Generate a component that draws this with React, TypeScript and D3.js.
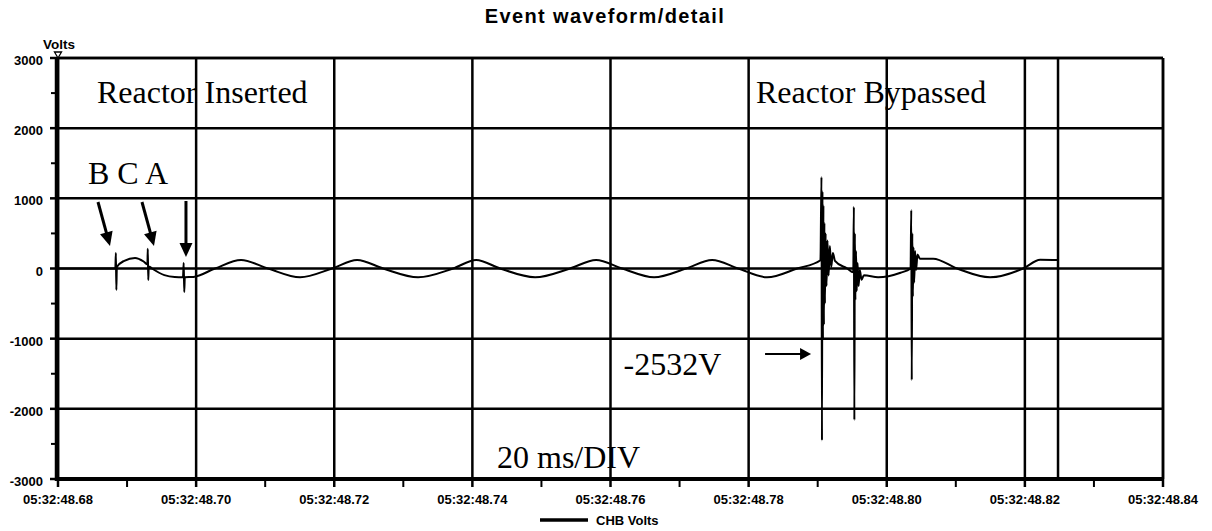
import React from "react";
import * as d3 from "d3";

// ---- data (time in ms after 05:32:48.680, values in volts) ----
const xTickMs = [0, 20, 40, 60, 80, 100, 120, 140, 160];
const xTickLabels = [
  "05:32:48.68", "05:32:48.70", "05:32:48.72", "05:32:48.74", "05:32:48.76",
  "05:32:48.78", "05:32:48.80", "05:32:48.82", "05:32:48.84",
];
const xMinorMs = [10, 30, 50, 70, 90, 110, 130, 150];
const yTicks = [-3000, -2000, -1000, 0, 1000, 2000, 3000];
const yMinor = [-2500, -1500, -500, 500, 1500, 2500];
const cursorMs = [144.8];
const seriesName = "CHB Volts";
const title = "Event waveform/detail";
const yUnit = "Volts";

const waveform: [number, number][] = [
  [0, 0], [8.3, 0],
  [8.38, 220], [8.45, -306], [8.52, 20],
  [9.6, 110], [11.15, 150], [12.4, 100], [12.95, 60],
  [13.0, 280], [13.07, -165], [13.14, 30],
  [13.61, 0], [15.4, -95], [16.9, -122], [18.1, -125],
  [18.2, 80], [18.28, -335], [18.36, -125],
  [19.6, -120], [22.74, 0], [26.5, 122], [30.41, 0], [35.05, -125],
  [39.68, 0], [43.3, 122], [47.07, 0], [52.14, -125], [57.2, 0],
  [60.54, 122], [64.01, 0], [69.08, -125], [74.15, 0], [77.91, 122],
  [81.68, 0], [86.31, -125], [90.95, 0], [94.71, 122], [98.48, 0],
  [102.68, -125], [107.02, 0], [110.4, 118],
  [110.55, 1304], [110.62, -2450], [110.69, 1100], [110.76, -1000], [110.83, 900],
  [110.9, -800], [110.97, 650], [111.05, -500], [111.15, 500], [111.28, -250],
  [111.42, 400], [111.58, -100], [111.76, 320], [111.95, 20], [112.2, 220], [112.5, 110],
  [114.27, 0],
  [115.15, -55], [115.24, 880], [115.31, -2159], [115.38, 500], [115.46, -450],
  [115.55, 250], [115.65, -320], [115.78, 80], [115.92, -250], [116.1, -20],
  [116.35, -160], [116.7, -95],
  [118.75, -125], [122.0, -60], [123.45, 0],
  [123.55, 833], [123.62, -1590], [123.7, 500], [123.78, -400], [123.87, 300],
  [123.97, -200], [124.1, 250], [124.25, -20], [124.45, 200], [124.8, 140],
  [126.72, 140], [130.2, 0], [134.97, -125], [139.75, 0], [142.22, 125], [144.9, 120],
];

const annotations = [
  { text: "Reactor Inserted", ms: 5.65, v: 2358 },
  { text: "Reactor Bypassed", ms: 101.07, v: 2358 },
  { text: "B C A", ms: 4.34, v: 1204 },
  { text: "-2532V", ms: 81.9, v: -1518 },
  { text: "20 ms/DIV", ms: 63.57, v: -2843 },
];

const arrows = [
  { ms0: 5.79, v0: 948, ms1: 7.53, v1: 321, w: 3 },
  { ms0: 12.16, v0: 948, ms1: 13.9, v1: 321, w: 3 },
  { ms0: 18.53, v0: 962, ms1: 18.53, v1: 164, w: 3 },
  { ms0: 102.38, v0: -1218, ms1: 109.04, v1: -1218, w: 2 },
];

const sans = "'Liberation Sans', Arial, Helvetica, sans-serif";
const serif = "'Liberation Serif', 'Times New Roman', serif";

export default function App() {
  const W = 1212;
  const H = 531;
  const x = d3.scaleLinear().domain([0, 160]).range([58, 1163]);
  const y = d3.scaleLinear().domain([-3000, 3000]).range([479, 58]);
  const line = d3
    .line<[number, number]>()
    .x((d) => x(d[0]))
    .y((d) => y(d[1]))
    .curve(d3.curveMonotoneX);

  const [x0, x1] = x.range();
  const [yb, yt] = y.range();

  const arrowEls = arrows.map((a, i) => {
    const px0 = x(a.ms0), py0 = y(a.v0), px1 = x(a.ms1), py1 = y(a.v1);
    const dx = px1 - px0, dy = py1 - py0;
    const len = Math.hypot(dx, dy);
    const ux = dx / len, uy = dy / len;
    const hl = a.w === 3 ? 14 : 11;
    const hw = a.w === 3 ? 6.5 : 6;
    const bx = px1 - ux * hl, by = py1 - uy * hl;
    const nx = -uy, ny = ux;
    const tri = `M${px1},${py1}L${bx + nx * hw},${by + ny * hw}L${bx - nx * hw},${by - ny * hw}Z`;
    return (
      <g key={i}>
        <line x1={px0} y1={py0} x2={bx + ux * 1} y2={by + uy * 1} stroke="#000" strokeWidth={a.w} />
        <path d={tri} fill="#000" />
      </g>
    );
  });

  return (
    <>
      <style>{"body{margin:0}"}</style>
      <svg width={W} height={H} style={{ display: "block", background: "#fff" }}>
        <text x={605} y={23} textAnchor="middle" fontFamily={sans} fontWeight="bold" fontSize={20} letterSpacing={1.4}>
          {title}
        </text>

        {/* gridlines */}
        {yTicks.map((t) => (
          <line key={"gy" + t} x1={x0} x2={x1} y1={y(t)} y2={y(t)} stroke="#000" strokeWidth={2.5} />
        ))}
        {xTickMs.map((t) => (
          <line key={"gx" + t} x1={x(t)} x2={x(t)} y1={yt} y2={yb} stroke="#000" strokeWidth={2.5} />
        ))}
        {cursorMs.map((t) => (
          <line key={"cur" + t} x1={x(t)} x2={x(t)} y1={yt} y2={yb} stroke="#000" strokeWidth={2.5} />
        ))}

        {/* waveform */}
        <path d={line(waveform) || ""} fill="none" stroke="#000" strokeWidth={2} strokeLinejoin="round" />

        {/* frame */}
        <line x1={x1} x2={x1} y1={yt} y2={yb} stroke="#000" strokeWidth={2.5} />
        <line x1={x0} x2={x1} y1={yt} y2={yt} stroke="#000" strokeWidth={2.5} />
        <line x1={x0 - 1} x2={x0 - 1} y1={yt} y2={yb + 2} stroke="#000" strokeWidth={4.5} />
        <line x1={x0 - 3} x2={x1 + 1} y1={yb} y2={yb} stroke="#000" strokeWidth={4} />

        {/* y ticks */}
        {yTicks.map((t) => (
          <g key={"yt" + t}>
            <line x1={x0 - 8} x2={x0} y1={y(t)} y2={y(t)} stroke="#000" strokeWidth={2.5} />
            <text x={x0 - 15} y={y(t) + 7} textAnchor="end" fontFamily={sans} fontWeight="bold" fontSize={13}>
              {t}
            </text>
          </g>
        ))}
        {yMinor.map((t) => (
          <line key={"ym" + t} x1={x0 - 7} x2={x0} y1={y(t)} y2={y(t)} stroke="#000" strokeWidth={2} />
        ))}

        {/* x ticks */}
        {xTickMs.map((t, i) => (
          <g key={"xt" + t}>
            <line x1={x(t)} x2={x(t)} y1={yb} y2={yb + 8} stroke="#000" strokeWidth={2.5} />
            <text x={x(t)} y={504} textAnchor="middle" fontFamily={sans} fontWeight="bold" fontSize={13}>
              {xTickLabels[i]}
            </text>
          </g>
        ))}
        {xMinorMs.map((t) => (
          <line key={"xm" + t} x1={x(t)} x2={x(t)} y1={yb} y2={yb + 8} stroke="#000" strokeWidth={2} />
        ))}

        {/* y unit */}
        <text x={59} y={49} textAnchor="middle" fontFamily={sans} fontWeight="bold" fontSize={13.5}>
          {yUnit}
        </text>
        <path d={`M${x0 - 3.5},${yt - 6}L${x0 + 3.5},${yt - 6}L${x0},${yt}Z`} fill="#fff" stroke="#000" strokeWidth={1.3} />

        {/* annotations */}
        {annotations.map((a, i) => (
          <text key={"an" + i} x={x(a.ms)} y={y(a.v)} fontFamily={serif} fontSize={32}>
            {a.text}
          </text>
        ))}
        {arrowEls}

        {/* legend */}
        <line x1={540} x2={588} y1={520} y2={520} stroke="#000" strokeWidth={3.5} />
        <text x={596} y={525} fontFamily={sans} fontWeight="bold" fontSize={13}>
          {seriesName}
        </text>
      </svg>
    </>
  );
}
